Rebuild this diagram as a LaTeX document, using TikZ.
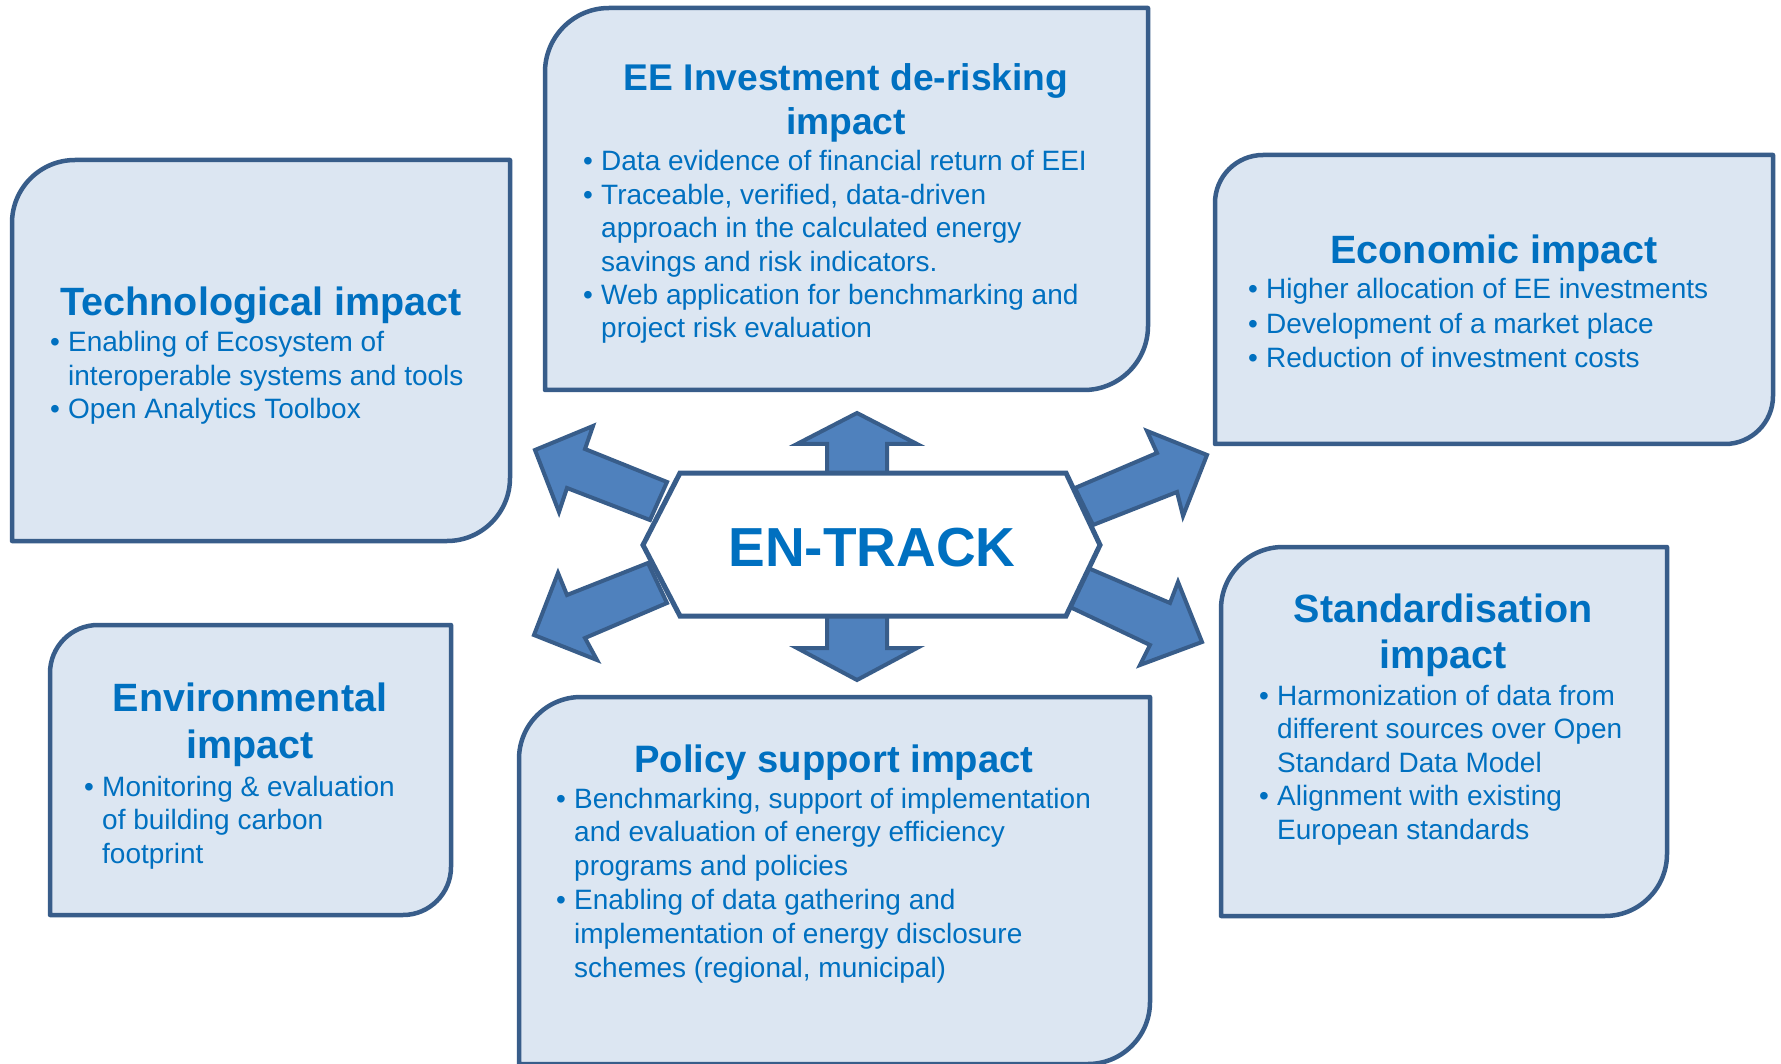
\documentclass[tikz,border=0pt]{standalone}
\usepackage{fontspec}
\setmainfont{Liberation Sans}
\definecolor{txtblue}{HTML}{0070C0}
\definecolor{boxfill}{HTML}{DCE6F2}
\definecolor{boxline}{HTML}{385D8A}
\definecolor{arrowfill}{HTML}{4F81BD}
\newcommand\tfont[2]{\bfseries\fontsize{#1}{#2}\selectfont}
\newcommand\bfont[2]{\fontsize{#1}{#2}\selectfont}
\newcommand\bu{\makebox[18pt][l]{\textbullet}}
\newcommand\ind{\hspace*{18pt}}
% diagonal-rounded panel: x1 y1 x2 y2 r
\newcommand\dpanel[5]{%
  \draw[panel] (#1,#4) -- (#1,{#2+#5}) .. controls (#1,{#2+0.448*#5}) and ({#1+0.448*#5},#2) .. ({#1+#5},#2)
    -- (#3,#2) -- (#3,{#4-#5}) .. controls (#3,{#4-0.448*#5}) and ({#3-0.448*#5},#4) .. ({#3-#5},#4) -- cycle;}
\tikzset{
  panel/.style={draw=boxline, fill=boxfill, line width=4.5pt, line join=round},
  blockarrow/.style={draw=boxline, fill=arrowfill, line width=4pt, line join=miter},
  hexa/.style={draw=boxline, fill=white, line width=5pt, line join=miter},
  ttl/.style={text=txtblue, inner sep=0pt, anchor=base},
  itm/.style={text=txtblue, inner sep=0pt, anchor=base west},
}
\begin{document}
\begin{tikzpicture}[x=1pt,y=-1pt]
\useasboundingbox (0,0) rectangle (1781,1064);
\fill[white] (0,0) rectangle (1781,1064);

% panels
\dpanel{12}{160}{510}{541}{63}
\dpanel{545}{8}{1148}{390}{64}
\dpanel{1215}{155}{1773}{444}{48}
\dpanel{50}{625}{451}{915}{48}
\dpanel{1221}{547}{1667}{916}{62}
\dpanel{519}{697}{1150}{1064}{62}

% block arrows
\draw[blockarrow] (857,413) -- (917,444) -- (887,444) -- (887,476) -- (827,476) -- (827,444) -- (797,444) -- cycle;
\draw[blockarrow] (857,680) -- (917,648) -- (887,648) -- (887,613) -- (827,613) -- (827,648) -- (797,648) -- cycle;
\draw[blockarrow] (535,450) -- (593,426) -- (585,449) -- (667,482) -- (650,520) -- (567,488) -- (559,512) -- cycle;
\draw[blockarrow] (534,635) -- (597,660) -- (585,638) -- (667,603) -- (648,563) -- (567,595) -- (558,573) -- cycle;
\draw[blockarrow] (1207,455) -- (1147,431) -- (1157,453) -- (1075,488) -- (1093,525) -- (1177,492) -- (1183,516) -- cycle;
\draw[blockarrow] (1202,642) -- (1140,665) -- (1150,645) -- (1070,607) -- (1088,568) -- (1170,603) -- (1178,582) -- cycle;

% centre hexagon
\draw[hexa] (643,545) -- (680,473) -- (1066,473) -- (1100,545) -- (1066,616) -- (680,616) -- cycle;
\node[ttl, font=\tfont{55}{60}] (entrack) at (872,566) {EN-TRACK};

% Technological
\node[ttl, font=\tfont{39.5}{46}] (techT) at (261,316) {Technological impact};
\node[itm, font=\bfont{28}{33.5}] (techB) at (50,352) {\begin{tabular}[t]{@{}l@{}}
\bu Enabling of Ecosystem of\\
\ind interoperable systems and tools\\
\bu Open Analytics Toolbox\end{tabular}};

% EE Investment
\node[ttl, font=\tfont{37.2}{44}] (eeT) at (846,91) {\begin{tabular}[t]{@{}c@{}}EE Investment de-risking\\impact\end{tabular}};
\node[itm, font=\bfont{28}{33.4}] (eeB) at (583,171) {\begin{tabular}[t]{@{}l@{}}
\bu Data evidence of financial return of EEI\\
\bu Traceable, verified, data-driven\\
\ind approach in the calculated energy\\
\ind savings and risk indicators.\\
\bu Web application for benchmarking and\\
\ind project risk evaluation\end{tabular}};

% Economic
\node[ttl, font=\tfont{39.5}{46}] (ecoT) at (1494,264) {Economic impact};
\node[itm, font=\bfont{28}{34.2}] (ecoB) at (1248,299) {\begin{tabular}[t]{@{}l@{}}
\bu Higher allocation of EE investments\\
\bu Development of a market place\\
\bu Reduction of investment costs\end{tabular}};

% Environmental
\node[ttl, font=\tfont{39.5}{47}] (envT) at (250,711) {\begin{tabular}[t]{@{}c@{}}Environmental\\impact\end{tabular}};
\node[itm, font=\bfont{28}{33.5}] (envB) at (84,796) {\begin{tabular}[t]{@{}l@{}}
\bu Monitoring \& evaluation\\
\ind of building carbon\\
\ind footprint\end{tabular}};

% Policy support
\node[ttl, font=\tfont{38.2}{46}] (polT) at (834,772) {Policy support impact};
\node[itm, font=\bfont{28}{33.8}] (polB) at (556,808) {\begin{tabular}[t]{@{}l@{}}
\bu Benchmarking, support of implementation\\
\ind and evaluation of energy efficiency\\
\ind programs and policies\\
\bu Enabling of data gathering and\\
\ind implementation of energy disclosure\\
\ind schemes (regional, municipal)\end{tabular}};

% Standardisation
\node[ttl, font=\tfont{39.5}{46}] (stdT) at (1443,622) {\begin{tabular}[t]{@{}c@{}}Standardisation\\impact\end{tabular}};
\node[itm, font=\bfont{28}{33.5}] (stdB) at (1259,705) {\begin{tabular}[t]{@{}l@{}}
\bu Harmonization of data from\\
\ind different sources over Open\\
\ind Standard Data Model\\
\bu Alignment with existing\\
\ind European standards\end{tabular}};
\end{tikzpicture}
\end{document}
